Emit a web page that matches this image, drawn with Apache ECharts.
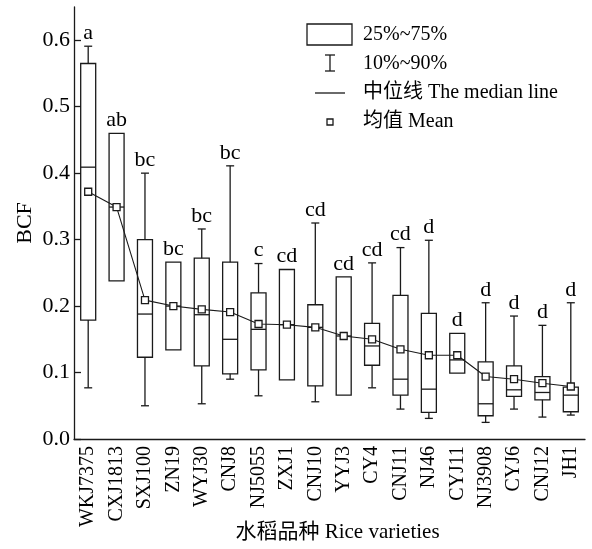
<!DOCTYPE html>
<html>
<head>
<meta charset="utf-8">
<script src="https://cdn.jsdelivr.net/npm/echarts@6/dist/echarts.min.js"></script>
<style>
  html, body { margin: 0; padding: 0; background: #fff; }
  #chart { width: 592px; height: 549px; }
</style>
</head>
<body>
<div id="chart"></div>
<script>
// 水稻品种
const categories = ['WKJ7375', 'CXJ1813', 'SXJ100', 'ZN19', 'WYJ30', 'CNJ8', 'NJ5055', 'ZXJ1', 'CNJ10',
  'YYJ3', 'CY4', 'CNJ11', 'NJ46', 'CYJ11', 'NJ3908', 'CYJ6', 'CNJ12', 'JH1'];
// 10% / 25% / 中位线 / 75% / 90%
const p10 = [0.077, 0.238, 0.050, 0.134, 0.053, 0.090, 0.065, 0.089, 0.056, 0.066, 0.077, 0.045, 0.031, 0.099, 0.025, 0.045, 0.033, 0.036];
const q1 = [0.179, 0.238, 0.123, 0.134, 0.110, 0.098, 0.104, 0.089, 0.080, 0.066, 0.111, 0.066, 0.040, 0.099, 0.035, 0.064, 0.059, 0.041];
const median = [0.409, 0.349, 0.188, 0.200, 0.187, 0.150, 0.165, 0.172, 0.168, 0.155, 0.140, 0.090, 0.075, 0.119, 0.053, 0.074, 0.070, 0.066];
const q3 = [0.565, 0.460, 0.300, 0.266, 0.272, 0.266, 0.220, 0.255, 0.202, 0.244, 0.174, 0.216, 0.189, 0.159, 0.116, 0.110, 0.094, 0.078];
const p90 = [0.591, 0.460, 0.400, 0.266, 0.316, 0.411, 0.264, 0.255, 0.325, 0.244, 0.265, 0.288, 0.299, 0.159, 0.205, 0.185, 0.171, 0.205];
// 均值
const mean = [0.372, 0.349, 0.209, 0.200, 0.195, 0.191, 0.173, 0.172, 0.168, 0.155, 0.150, 0.135, 0.126, 0.126, 0.094, 0.090, 0.084, 0.079];
// 显著性字母
const letters = ['a', 'ab', 'bc', 'bc', 'bc', 'bc', 'c', 'cd', 'cd', 'cd', 'cd', 'cd', 'd', 'd', 'd', 'd', 'd', 'd'];
const yTicks = [0, 0.1, 0.2, 0.3, 0.4, 0.5, 0.6];

const FONT = '"Liberation Serif", "Times New Roman", "Noto Sans CJK SC", serif';
const INK = '#1a1a1a';

const chart = echarts.init(document.getElementById('chart'));

function renderBox(params, api) {
  const i = api.value(0);
  const pLo = api.coord([i, api.value(1)]);
  const pQ1 = api.coord([i, api.value(2)]);
  const pMd = api.coord([i, api.value(3)]);
  const pQ3 = api.coord([i, api.value(4)]);
  const pHi = api.coord([i, api.value(5)]);
  const x = pMd[0];
  const bw = 15, cw = 8;
  const st = { stroke: INK, lineWidth: 1.3, fill: null };
  const kids = [];
  if (pHi[1] < pQ3[1] - 0.5) {
    kids.push({ type: 'line', shape: { x1: x, y1: pHi[1], x2: x, y2: pQ3[1] }, style: st });
    kids.push({ type: 'line', shape: { x1: x - cw / 2, y1: pHi[1], x2: x + cw / 2, y2: pHi[1] }, style: st });
  }
  if (pLo[1] > pQ1[1] + 0.5) {
    kids.push({ type: 'line', shape: { x1: x, y1: pQ1[1], x2: x, y2: pLo[1] }, style: st });
    kids.push({ type: 'line', shape: { x1: x - cw / 2, y1: pLo[1], x2: x + cw / 2, y2: pLo[1] }, style: st });
  }
  kids.push({ type: 'rect', shape: { x: x - bw / 2, y: pQ3[1], width: bw, height: pQ1[1] - pQ3[1] }, style: st });
  kids.push({ type: 'line', shape: { x1: x - bw / 2, y1: pMd[1], x2: x + bw / 2, y2: pMd[1] }, style: st });
  const top = Math.min(pHi[1], pQ3[1]);
  kids.push({
    type: 'text', x: x, y: top - 2,
    style: { text: letters[params.dataIndex], fill: '#000', font: '22px ' + FONT, align: 'center', verticalAlign: 'bottom' }
  });
  return { type: 'group', children: kids };
}

const boxData = categories.map((c, i) => [i, p10[i], q1[i], median[i], q3[i], p90[i]]);

const legendText = { fill: '#000', font: '20px ' + FONT, verticalAlign: 'middle' };
const legendLine = { stroke: INK, lineWidth: 1.3, fill: null };

const option = {
  animation: false,
  backgroundColor: '#fff',
  grid: { left: 74, right: 7, top: 7, bottom: 110, outerBoundsMode: 'none', containLabel: false },
  xAxis: {
    type: 'category',
    data: categories,
    axisLine: { lineStyle: { color: INK, width: 1.3 } },
    axisTick: { inside: true, length: 6, alignWithLabel: true, lineStyle: { color: INK, width: 1.3 } },
    axisLabel: { rotate: 90, color: '#000', fontFamily: FONT, fontSize: 20, margin: 7, interval: 0 },
    name: '水稻品种 Rice varieties',
    nameLocation: 'middle',
    nameGap: 83,
    nameMoveOverlap: false,
    nameTextStyle: { color: '#000', fontFamily: FONT, fontSize: 21, padding: [0, 0, 0, 16] }
  },
  yAxis: {
    type: 'value',
    min: 0,
    max: 0.65,
    interval: 0.1,
    splitLine: { show: false },
    axisLine: { show: true, lineStyle: { color: INK, width: 1.3 } },
    axisTick: { show: true, inside: true, length: 7, customValues: yTicks, lineStyle: { color: INK, width: 1.3 } },
    axisLabel: { color: '#000', fontFamily: FONT, fontSize: 22, margin: 4, customValues: yTicks,
      formatter: v => v.toFixed(1) },
    name: 'BCF',
    nameLocation: 'middle',
    nameGap: 38,
    nameMoveOverlap: false,
    nameTextStyle: { color: '#000', fontFamily: FONT, fontSize: 22 }
  },
  series: [
    {
      type: 'custom',
      renderItem: renderBox,
      data: boxData,
      encode: { x: 0, y: [1, 2, 3, 4, 5] },
      z: 2
    },
    {
      type: 'line',
      data: mean,
      symbol: 'rect',
      symbolSize: 7,
      itemStyle: { color: '#fff', borderColor: INK, borderWidth: 1.3 },
      lineStyle: { color: INK, width: 1.1 },
      z: 3
    }
  ],
  graphic: [
    { type: 'rect', shape: { x: 307, y: 24, width: 45, height: 21 }, style: legendLine },
    { type: 'text', x: 363, y: 35, style: Object.assign({ text: '25%~75%' }, legendText) },
    { type: 'line', shape: { x1: 330, y1: 55, x2: 330, y2: 71 }, style: legendLine },
    { type: 'line', shape: { x1: 325, y1: 55, x2: 335, y2: 55 }, style: legendLine },
    { type: 'line', shape: { x1: 325, y1: 71, x2: 335, y2: 71 }, style: legendLine },
    { type: 'text', x: 363, y: 64, style: Object.assign({ text: '10%~90%' }, legendText) },
    { type: 'line', shape: { x1: 315, y1: 93, x2: 345, y2: 93 }, style: legendLine },
    { type: 'text', x: 363, y: 93, style: Object.assign({ text: '中位线 The median line' }, legendText) },
    { type: 'rect', shape: { x: 327, y: 119, width: 6, height: 6 }, style: legendLine },
    { type: 'text', x: 363, y: 122, style: Object.assign({ text: '均值 Mean' }, legendText) }
  ]
};

chart.setOption(option);
</script>
</body>
</html>
